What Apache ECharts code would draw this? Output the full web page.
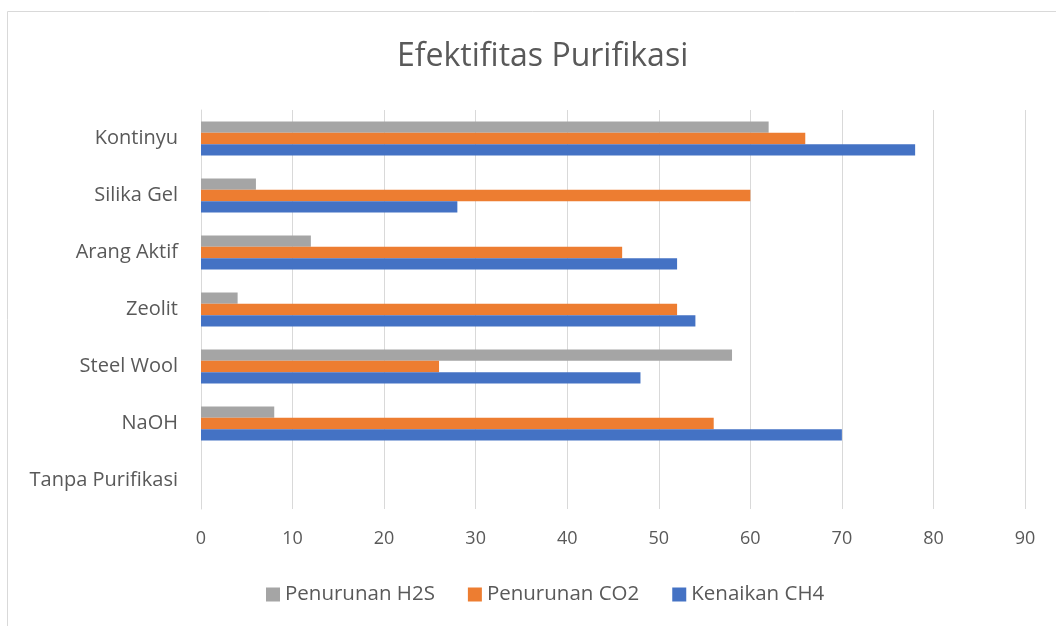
<!DOCTYPE html>
<html>
<head>
<meta charset="utf-8">
<script src="https://cdn.jsdelivr.net/npm/echarts@6/dist/echarts.min.js"></script>
<style>
  html, body { margin: 0; padding: 0; background: #fff; }
  #chart { width: 1056px; height: 626px; }
</style>
</head>
<body>
<div id="chart"></div>
<script>
var categories = ['Tanpa Purifikasi', 'NaOH', 'Steel Wool', 'Zeolit', 'Arang Aktif', 'Silika Gel', 'Kontinyu'];
var ch4 = [0, 70, 48, 54, 52, 28, 78];
var co2 = [0, 56, 26, 52, 46, 60, 66];
var h2s = [0, 8, 58, 4, 12, 6, 62];
var legendNames = ['Penurunan H2S', 'Penurunan CO2', 'Kenaikan CH4'];

var chart = echarts.init(document.getElementById('chart'));
var font = 'Open Sans';
var txt = '#595959';

var option = {
    animation: false,
    title: {
        text: 'Efektifitas Purifikasi',
        left: 392,
        top: 36,
        textStyle: { fontFamily: font, fontSize: 32, fontWeight: 'normal', color: txt }
    },
    legend: {
        data: legendNames,
        top: 579,
        left: 261,
        itemWidth: 14,
        itemHeight: 14,
        itemGap: 33,
        icon: 'rect',
        textStyle: { fontFamily: font, fontSize: 20.5, color: txt }
    },
    grid: { left: 201, right: 31, top: 110, bottom: 117 },
    xAxis: {
        type: 'value',
        min: 0, max: 90, interval: 10,
        axisLine: { show: false },
        axisTick: { show: false },
        splitLine: { lineStyle: { color: '#d9d9d9', width: 1 } },
        axisLabel: { fontFamily: font, fontSize: 18, color: txt, margin: 21 }
    },
    yAxis: {
        type: 'category',
        data: categories,
        axisLine: { lineStyle: { color: '#d9d9d9' } },
        axisTick: { show: false },
        axisLabel: { fontFamily: font, fontSize: 20, color: txt, margin: 23 }
    },
    graphic: [{
        type: 'rect',
        shape: { x: 7.5, y: 11.5, width: 1200, height: 800 },
        style: { fill: 'none', stroke: '#d9d9d9', lineWidth: 1 },
        silent: true
    }],
    series: [
        { name: 'Penurunan H2S', type: 'bar', data: h2s, itemStyle: { color: '#a5a5a5' }, barGap: 0, barCategoryGap: '40%' },
        { name: 'Penurunan CO2', type: 'bar', data: co2, itemStyle: { color: '#ed7d31' } },
        { name: 'Kenaikan CH4', type: 'bar', data: ch4, itemStyle: { color: '#4472c4' } }
    ]
};

chart.setOption(option);
</script>
</body>
</html>
